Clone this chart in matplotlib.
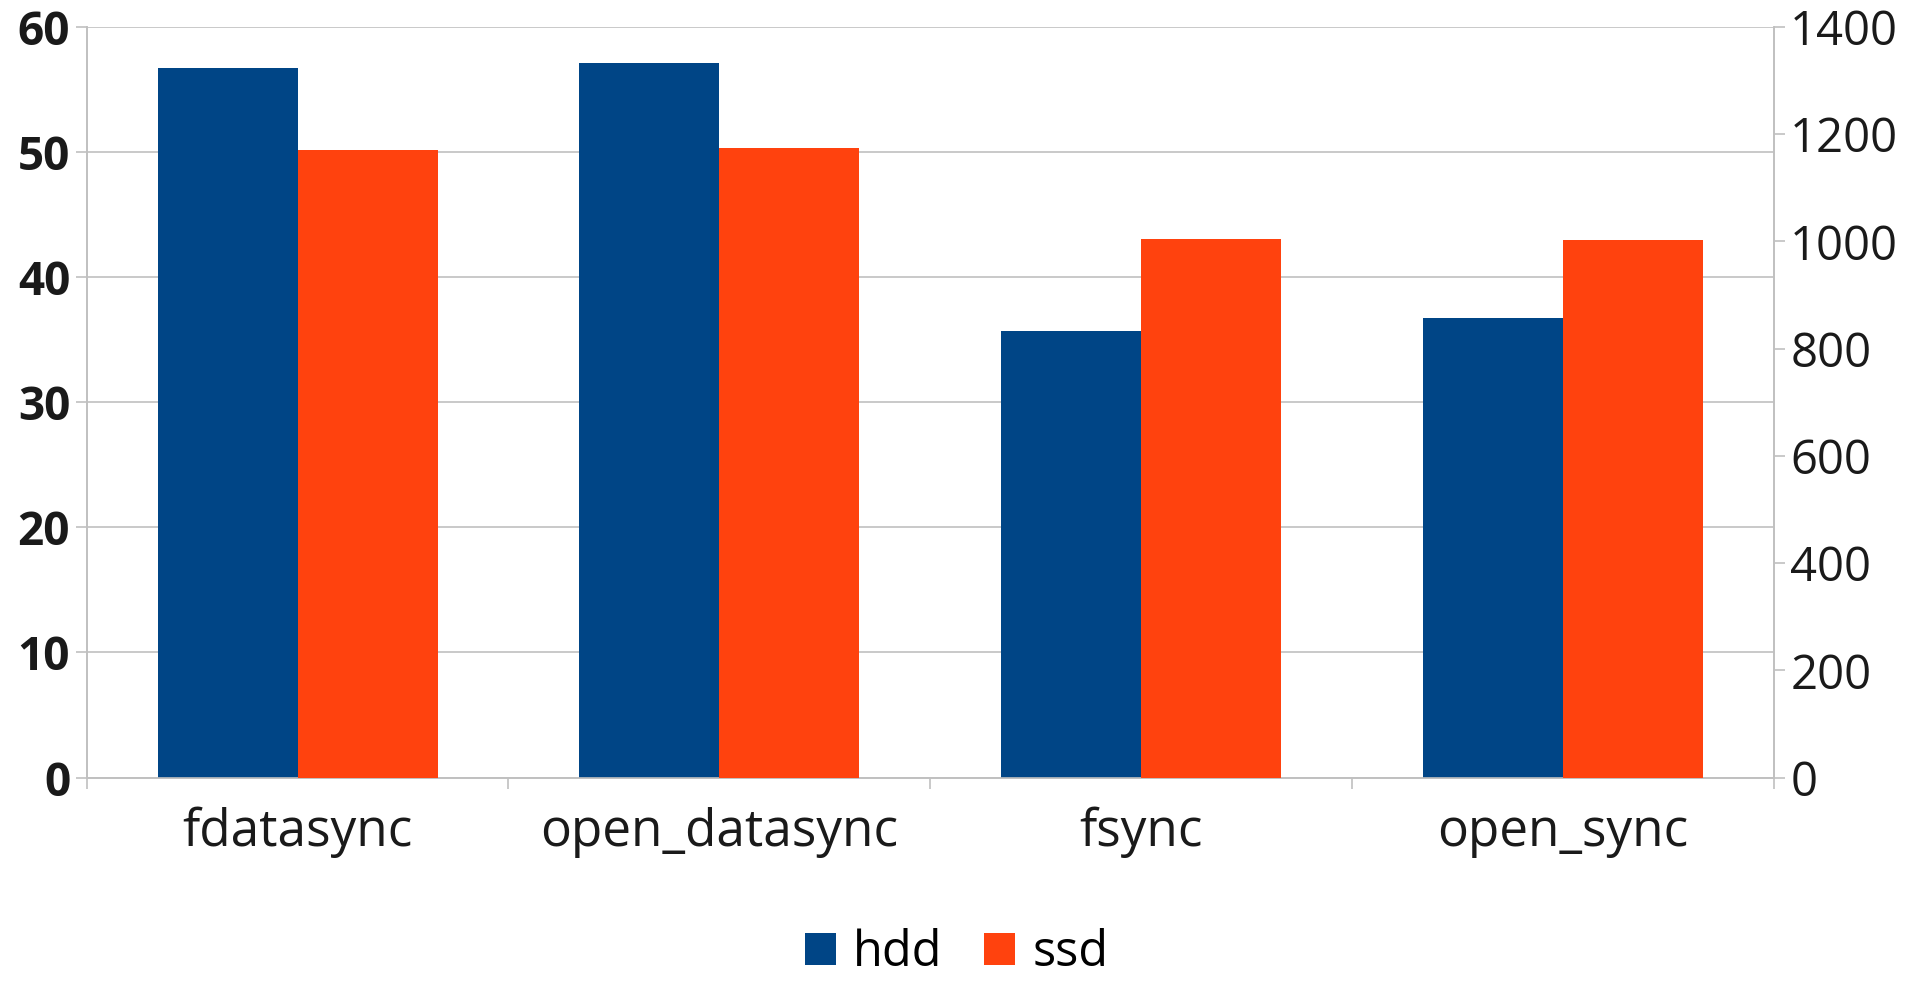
import matplotlib
matplotlib.use("Agg")
import matplotlib.pyplot as plt
import numpy as np

plt.rcParams['font.family'] = ['Open Sans', 'DejaVu Sans']

# fsync method benchmark results
methods = ["fdatasync", "open_datasync", "fsync", "open_sync"]
hdd_ops = [56.7, 57.1, 35.7, 36.7]          # left axis
ssd_ops = [1170, 1174, 1005, 1003]          # right axis

left_ticks = [0, 10, 20, 30, 40, 50, 60]
right_ticks = [0, 200, 400, 600, 800, 1000, 1200, 1400]

HDD_COLOR = "#004586"
SSD_COLOR = "#ff420e"
GRID = "#c0c0c0"
TEXT = "#1a1a1a"

fig = plt.figure(figsize=(19.19, 9.81), dpi=100)
ax = fig.add_axes([0.04523, 0.2074, 0.87897, 0.7651])
ax2 = ax.twinx()

x = np.arange(len(methods))
w = 0.332
ax.bar(x - w / 2, hdd_ops, width=w, color=HDD_COLOR, label="hdd", zorder=3)
ax2.bar(x + w / 2, ssd_ops, width=w, color=SSD_COLOR, label="ssd", zorder=3)

ax.set_xlim(-0.5, len(methods) - 0.5)
ax.set_ylim(0, 60)
ax2.set_ylim(0, 1400)

ax.set_yticks(left_ticks)
ax.set_yticklabels([str(t) for t in left_ticks], fontweight="bold", fontsize=33, color=TEXT)
ax2.set_yticks(right_ticks)
ax2.set_yticklabels([str(t) for t in right_ticks], fontsize=34, color=TEXT)

ax.set_xticks(np.arange(-0.5, len(methods), 1.0))
ax.set_xticklabels([])
ax.set_xticks(x, minor=True)
ax.set_xticklabels(methods, minor=True, fontsize=37, color=TEXT)
ax.tick_params(axis="x", which="major", length=8, width=1.2, color=GRID, direction="out")
ax.tick_params(axis="x", which="minor", length=0, pad=21)
ax.tick_params(axis="y", length=8, width=1.2, color=GRID, pad=4)
ax2.tick_params(axis="y", length=8, width=1.2, color=GRID, pad=4)

ax.yaxis.grid(True, color=GRID, linewidth=1.2, zorder=0)
ax.set_axisbelow(True)

for a in (ax, ax2):
    a.spines["top"].set_visible(False)
    for s in ("left", "right", "bottom"):
        a.spines[s].set_color(GRID)
        a.spines[s].set_linewidth(1.2)

h1, l1 = ax.get_legend_handles_labels()
h2, l2 = ax2.get_legend_handles_labels()
fig.legend(h1 + h2, l1 + l2, loc="center", bbox_to_anchor=(0.4985, 0.0285),
           ncol=2, frameon=False, fontsize=35, handlelength=0.64, handleheight=0.64,
           handletextpad=0.35, columnspacing=0.85, borderaxespad=0)

fig.savefig("out.png", dpi=100, facecolor="white")
